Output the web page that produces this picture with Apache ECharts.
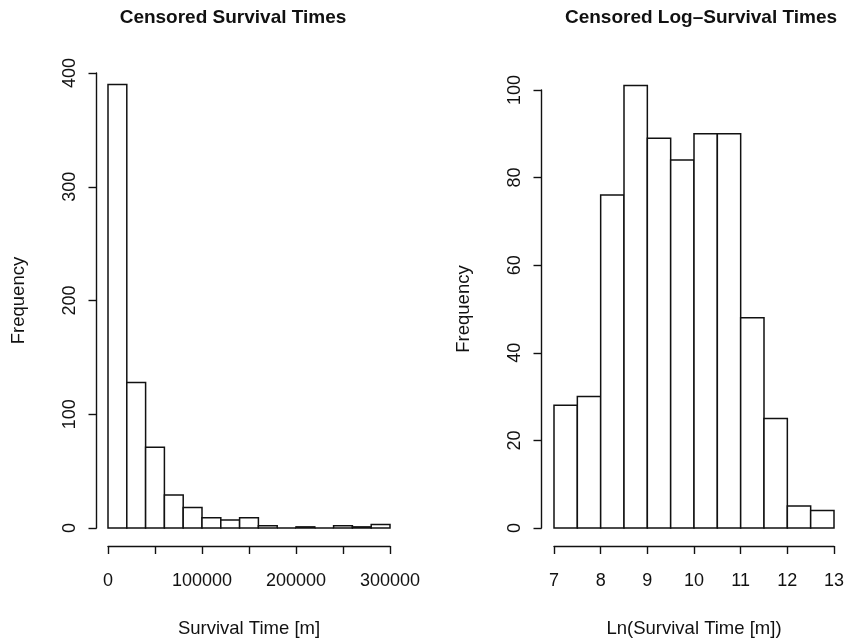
<!DOCTYPE html>
<html>
<head>
<meta charset="utf-8">
<script src="https://cdn.jsdelivr.net/npm/echarts@6/dist/echarts.min.js"></script>
<style>
  html, body { margin: 0; padding: 0; background: #ffffff; }
  #chart { width: 856px; height: 643px; }
</style>
</head>
<body>
<div id="chart"></div>
<script>
// Histogram of survival times: bin edges and counts
const survBreaks = [0, 20000, 40000, 60000, 80000, 100000, 120000, 140000,
                    160000, 180000, 200000, 220000, 240000, 260000, 280000, 300000];
const survCounts = [390, 128, 71, 29, 18, 9, 7, 9, 2, 0, 1, 0, 2, 1, 3];

// Histogram of log survival times
const logBreaks = [7, 7.5, 8, 8.5, 9, 9.5, 10, 10.5, 11, 11.5, 12, 12.5, 13];
const logCounts = [28, 30, 76, 101, 89, 84, 90, 90, 48, 25, 5, 4];

// Axis ticks
const survXTicks = [0, 50000, 100000, 150000, 200000, 250000, 300000];
const survXLabelled = [0, 100000, 200000, 300000];
const survYTicks = [0, 100, 200, 300, 400];
const logXTicks = [7, 8, 9, 10, 11, 12, 13];
const logYTicks = [0, 20, 40, 60, 80, 100];

const FONT = '"Liberation Sans", Arial, Helvetica, sans-serif';
const INK = '#111111';

function binsOf(breaks, counts) {
  return counts.map((c, i) => [breaks[i], breaks[i + 1], c]);
}

function renderBin(params, api) {
  const topLeft = api.coord([api.value(0), api.value(2)]);
  const bottomRight = api.coord([api.value(1), 0]);
  return {
    type: 'rect',
    shape: {
      x: topLeft[0],
      y: topLeft[1],
      width: bottomRight[0] - topLeft[0],
      height: bottomRight[1] - topLeft[1]
    },
    style: { fill: '#ffffff', stroke: INK, lineWidth: 1.5 }
  };
}

function xAxisOf(idx, ticks, labelled, name) {
  return {
    type: 'value', gridIndex: idx,
    min: ticks[0], max: ticks[ticks.length - 1],
    interval: ticks[1] - ticks[0],
    offset: 18,
    splitLine: { show: false },
    axisLine: { show: true, onZero: false, lineStyle: { color: INK, width: 1.4 } },
    axisTick: { show: true, inside: false, length: 8, lineStyle: { color: INK, width: 1.4 } },
    axisLabel: {
      show: true, margin: 26, color: INK, fontFamily: FONT, fontSize: 18,
      showMinLabel: true, showMaxLabel: true,
      formatter: v => (labelled.indexOf(v) >= 0 ? String(v) : '')
    },
    name: name, nameLocation: 'middle', nameGap: 73,
    nameTextStyle: { color: INK, fontFamily: FONT, fontSize: 18.5 }
  };
}

function yAxisOf(idx, ticks, offset) {
  return {
    type: 'value', gridIndex: idx,
    min: ticks[0], max: ticks[ticks.length - 1],
    interval: ticks[1] - ticks[0],
    offset: offset,
    splitLine: { show: false },
    axisLine: { show: true, onZero: false, lineStyle: { color: INK, width: 1.4 } },
    axisTick: { show: true, inside: false, length: 8, lineStyle: { color: INK, width: 1.4 } },
    axisLabel: {
      show: true, rotate: 90, margin: 17, color: INK, fontFamily: FONT, fontSize: 18,
      showMinLabel: true, showMaxLabel: true
    },
    name: 'Frequency', nameLocation: 'middle', nameGap: 68,
    nameTextStyle: { color: INK, fontFamily: FONT, fontSize: 18.5 }
  };
}

const chart = echarts.init(document.getElementById('chart'), null, { renderer: 'canvas' });

chart.setOption({
  backgroundColor: '#ffffff',
  animation: false,
  title: [
    {
      text: 'Censored Survival Times', left: 233, top: 8, padding: 0, textAlign: 'center',
      textStyle: { color: INK, fontFamily: FONT, fontSize: 19, fontWeight: 'bold' }
    },
    {
      text: 'Censored Log\u2013Survival Times', left: 701, top: 8, padding: 0, textAlign: 'center',
      textStyle: { color: INK, fontFamily: FONT, fontSize: 19, fontWeight: 'bold' }
    }
  ],
  grid: [
    { left: 108, top: 73, width: 282, height: 457, containLabel: false },
    { left: 554, top: 90, width: 280, height: 440, containLabel: false }
  ],
  xAxis: [
    xAxisOf(0, survXTicks, survXLabelled, 'Survival Time [m]'),
    xAxisOf(1, logXTicks, logXTicks, 'Ln(Survival Time [m])')
  ],
  yAxis: [
    yAxisOf(0, survYTicks, 11.5),
    yAxisOf(1, logYTicks, 12.5)
  ],
  series: [
    {
      type: 'custom', xAxisIndex: 0, yAxisIndex: 0, clip: false,
      renderItem: renderBin,
      encode: { x: [0, 1], y: 2 },
      data: binsOf(survBreaks, survCounts)
    },
    {
      type: 'custom', xAxisIndex: 1, yAxisIndex: 1, clip: false,
      renderItem: renderBin,
      encode: { x: [0, 1], y: 2 },
      data: binsOf(logBreaks, logCounts)
    }
  ]
});
</script>
</body>
</html>
